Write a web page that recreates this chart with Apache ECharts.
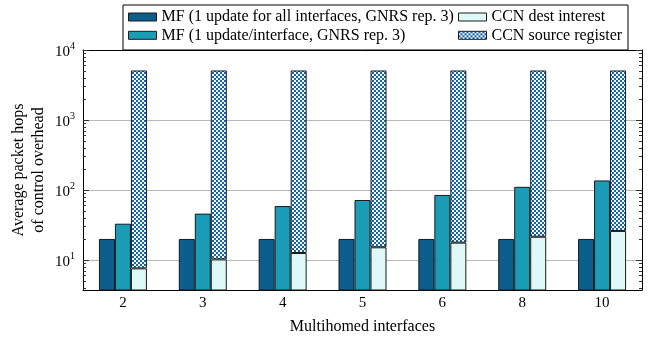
<!DOCTYPE html>
<html><head><meta charset="utf-8">
<script src="https://cdn.jsdelivr.net/npm/echarts@6/dist/echarts.min.js"></script>
<style>html,body{margin:0;padding:0;background:#fff}#c{width:652px;height:339px}</style>
</head><body><div id="c"></div>
<script>
const categories = ['2','3','4','5','6','8','10'];
const mfAll = [20,20,20,20,20,20,20];
const mfPer = [33,46,59,72,85,111,137];
const ccnDest = [7.6,10.2,12.6,15.2,17.7,21.5,26];
const ccnSourceTop = [5100,5100,5100,5100,5100,5100,5100];
const names = ['MF (1 update for all interfaces, GNRS rep. 3)','MF (1 update/interface, GNRS rep. 3)','CCN dest interest','CCN source register'];
const yMin = 3.73, yMax = 10000;
const majorTicks = [10,100,1000,10000];
const minorTicks = [4,5,6,7,8,9,20,30,40,50,60,70,80,90,200,300,400,500,600,700,800,900,2000,3000,4000,5000,6000,7000,8000,9000];

const ccnSource = ccnSourceTop.map((t,i)=>t-ccnDest[i]);

const pc = document.createElement('canvas'); pc.width=4; pc.height=4;
const g = pc.getContext('2d');
g.fillStyle='#eef8fc'; g.fillRect(0,0,4,4);
g.fillStyle='#1b64a4'; g.fillRect(0,0,2,2); g.fillRect(2,2,2,2);
const pattern = {image: pc, repeat: 'repeat'};

const FONT = 'Liberation Serif';
const lg = Math.log10;
const helperY = (pos, vals, len, extra) => Object.assign({
  type:'value', position: pos, min: lg(yMin), max: lg(yMax),
  axisLine:{show:false}, axisLabel:{show:false}, splitLine:{show:false},
  axisTick:{show:true, inside:true, length:len, customValues: vals.map(lg), lineStyle:{color:'#333',width:1}}
}, extra||{});

const chart = echarts.init(document.getElementById('c'), null, {renderer:'canvas'});
const border = {borderColor:'#1a1a1a', borderWidth:1};
const legendText = {fontFamily:FONT, fontSize:16, color:'#000', lineHeight:16};
chart.setOption({
  animation:false,
  textStyle:{fontFamily:FONT},
  grid:{left:83, right:10, top:50, bottom:49, outerBoundsMode:'none', containLabel:false},
  graphic:[{type:'rect', shape:{x:123,y:5,width:505,height:45}, style:{fill:'#fff', stroke:'#000', lineWidth:1}, z:3}],
  legend:[
    {data:[names[0],names[1]], orient:'vertical', left:123, top:5, padding:[4,0,7,5], itemGap:2.3, itemWidth:28, itemHeight:8, icon:'rect',
     textStyle:legendText, itemStyle:{borderColor:'#1a1a1a', borderWidth:1}},
    {data:[names[2],names[3]], orient:'vertical', left:453, top:5, padding:[4,0,7,5], itemGap:2.3, itemWidth:28, itemHeight:8, icon:'rect',
     textStyle:legendText, itemStyle:{borderColor:'#1a1a1a', borderWidth:1}}
  ],
  xAxis:[
    {type:'category', data:categories, position:'bottom',
     name:'Multihomed interfaces', nameLocation:'middle', nameGap:29,
     nameTextStyle:{fontFamily:FONT, fontSize:16, color:'#000'},
     axisLine:{lineStyle:{color:'#000', width:1}},
     axisTick:{inside:true, alignWithLabel:true, length:5, lineStyle:{color:'#333'}},
     axisLabel:{fontFamily:FONT, fontSize:15, color:'#000', margin:6}},
    {type:'category', data:categories, position:'top',
     axisLine:{lineStyle:{color:'#000', width:1}},
     axisTick:{inside:true, alignWithLabel:true, length:5, lineStyle:{color:'#333'}},
     axisLabel:{show:false}}
  ],
  yAxis:[
    {type:'log', logBase:10, min:yMin, max:yMax, position:'left',
     name:'Average packet hops\nof control overhead', nameLocation:'middle', nameRotate:90, nameGap:34,
     nameTextStyle:{fontFamily:FONT, fontSize:16, color:'#000', lineHeight:20},
     axisLine:{show:true, lineStyle:{color:'#000', width:1}},
     axisTick:{show:false}, axisLabel:{show:false}, splitLine:{show:false}},
    helperY('left', majorTicks, 6, {
      axisLabel:{show:true, customValues: majorTicks.map(lg), margin:8,
        formatter: v => '{b|10}{s|' + Math.round(v) + '}',
        rich:{b:{fontFamily:FONT, fontSize:15, color:'#000', padding:[4,0,0,0]}, s:{fontFamily:FONT, fontSize:10, color:'#000', padding:[0,0,8,0]}}},
      splitLine:{show:true, lineStyle:{color:'#b8b8b8', width:1}}}),
    helperY('left', minorTicks, 3),
    helperY('right', majorTicks, 6, {axisLine:{show:true, lineStyle:{color:'#000', width:1}}}),
    helperY('right', minorTicks, 3)
  ],
  series:[
    {name:names[0], type:'bar', data:mfAll, barWidth:16, barGap:'0%', itemStyle:Object.assign({color:'#0c5e8c'}, border)},
    {name:names[1], type:'bar', data:mfPer, barWidth:16, barGap:'0%', itemStyle:Object.assign({color:'#1a9bb6'}, border)},
    {name:names[2], type:'bar', stack:'ccn', data:ccnDest, barWidth:16, barGap:'0%', itemStyle:Object.assign({color:'#dff8f8'}, border)},
    {name:names[3], type:'bar', stack:'ccn', data:ccnSource, barWidth:16, barGap:'0%', itemStyle:Object.assign({color:pattern}, border)}
  ]
});
</script></body></html>
